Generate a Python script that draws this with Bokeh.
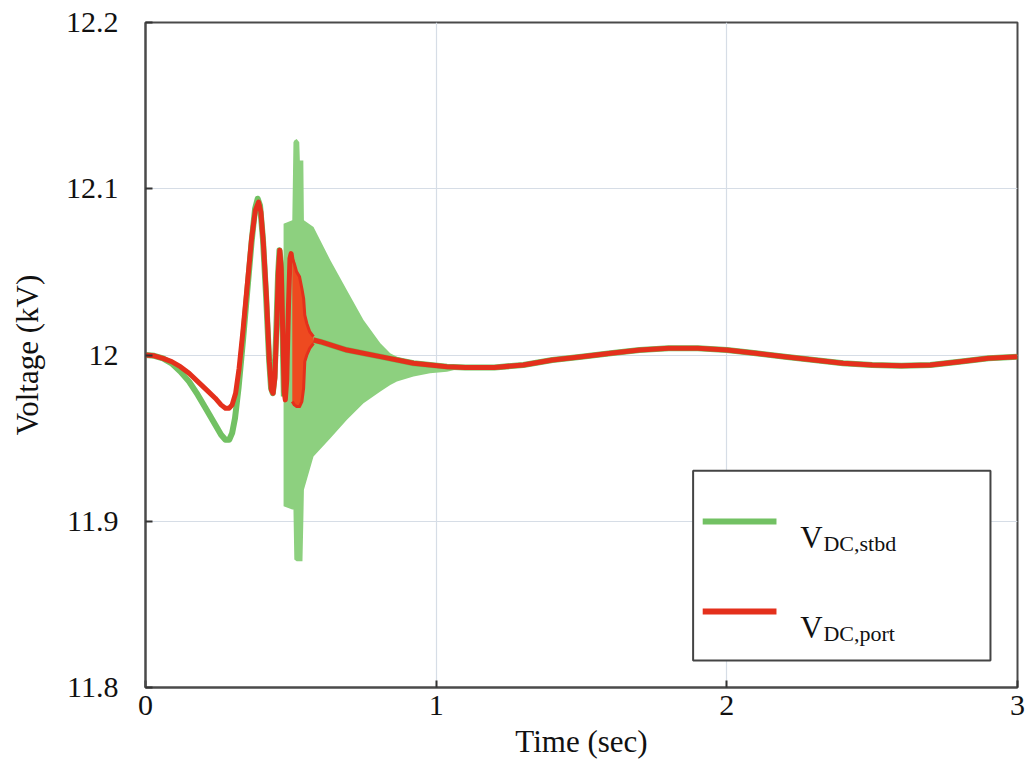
from bokeh.plotting import figure
from bokeh.models import FixedTicker, CustomJSTickFormatter, Range1d
from bokeh.core.properties import value
from bokeh.embed import file_html
from bokeh.resources import INLINE

# ---- axis setup -------------------------------------------------------
x_ticks = [0, 1, 2, 3]
y_ticks = [11.8, 11.9, 12.0, 12.1, 12.2]
x_lo, x_hi = 0.0, 3.0
y_lo, y_hi = 11.8, 12.2

# ---- V_DC,stbd (starboard bus) ----------------------------------------
stbd_t = [0.000, 0.030, 0.060, 0.090, 0.120, 0.150, 0.180, 0.210, 0.240,
          0.260, 0.275, 0.288, 0.298, 0.308, 0.320, 0.335, 0.350, 0.365,
          0.377, 0.386, 0.394, 0.404, 0.415, 0.425, 0.432, 0.438, 0.444,
          0.450, 0.456, 0.461, 0.466, 0.471, 0.476]
stbd_v = [12.000, 11.9995, 11.998, 11.995, 11.990, 11.984, 11.976, 11.967, 11.958,
          11.952, 11.949, 11.949, 11.953, 11.962, 11.980, 12.008, 12.038, 12.068,
          12.088, 12.094, 12.090, 12.070, 12.035, 11.998, 11.980, 11.977, 11.987,
          12.015, 12.048, 12.063, 12.055, 12.020, 11.975]

# fast ripple after the breaker event: upper / lower envelope
stbd_env_t = [0.475, 0.505, 0.509, 0.512, 0.520, 0.529, 0.531, 0.540, 0.543,
              0.545, 0.578, 0.636, 0.693, 0.750, 0.808, 0.842, 0.865, 0.922,
              0.979, 1.037, 1.100]
stbd_env_hi = [12.079, 12.081, 12.128, 12.129, 12.130, 12.128, 12.117, 12.117, 12.117,
               12.081, 12.077, 12.057, 12.039, 12.021, 12.007, 12.001, 11.999, 11.996,
               11.994, 11.993, 11.9925]
stbd_env_lo = [11.909, 11.907, 11.907, 11.877, 11.876, 11.876, 11.876, 11.876, 11.900,
               11.919, 11.939, 11.950, 11.961, 11.971, 11.978, 11.982, 11.984, 11.987,
               11.989, 11.990, 11.9925]

stbd_tail_t = [0.578, 0.601, 0.693, 0.808, 0.922, 1.037, 1.10, 1.20, 1.30, 1.40,
               1.50, 1.60, 1.70, 1.80, 1.90, 2.00, 2.10, 2.20, 2.30, 2.40,
               2.50, 2.60, 2.70, 2.80, 2.90, 3.00]
stbd_tail_v = [12.009, 12.008, 12.003, 11.999, 11.995, 11.993, 11.9925, 11.9925, 11.994, 11.997,
               11.999, 12.001, 12.003, 12.004, 12.004, 12.003, 12.001, 11.999, 11.997, 11.995,
               11.994, 11.9935, 11.994, 11.996, 11.998, 11.999]

# ---- V_DC,port (port bus) ---------------------------------------------
port_t = [0.000, 0.030, 0.060, 0.090, 0.120, 0.150, 0.180, 0.210, 0.240,
          0.260, 0.275, 0.288, 0.298, 0.310, 0.322, 0.335, 0.350, 0.365,
          0.378, 0.389, 0.397, 0.406, 0.416, 0.426, 0.433, 0.439, 0.445,
          0.451, 0.457, 0.462, 0.467, 0.472, 0.477, 0.481, 0.486, 0.492,
          0.497, 0.501, 0.505]
port_v = [12.000, 11.9995, 11.998, 11.996, 11.993, 11.989, 11.984, 11.979, 11.974,
          11.970, 11.968, 11.968, 11.970, 11.977, 11.992, 12.014, 12.042, 12.070,
          12.087, 12.092, 12.086, 12.066, 12.035, 11.996, 11.979, 11.977, 11.986,
          12.015, 12.050, 12.063, 12.052, 12.015, 11.978, 11.973, 11.985, 12.030,
          12.058, 12.061, 12.056]

port_env_t = [0.505, 0.512, 0.520, 0.530, 0.538, 0.544, 0.548, 0.555, 0.565, 0.578]
port_env_hi = [12.058, 12.055, 12.050, 12.047, 12.040, 12.034, 12.024, 12.019, 12.014, 12.011]
port_env_lo = [11.972, 11.970, 11.969, 11.969, 11.972, 11.980, 11.996, 12.000, 12.004, 12.007]

port_tail_t = [0.578, 0.601, 0.693, 0.808, 0.922, 1.037, 1.10, 1.20, 1.30, 1.40,
               1.50, 1.60, 1.70, 1.80, 1.90, 2.00, 2.10, 2.20, 2.30, 2.40,
               2.50, 2.60, 2.70, 2.80, 2.90, 3.00]
port_tail_v = [12.009, 12.008, 12.003, 11.999, 11.995, 11.993, 11.9925, 11.9925, 11.994, 11.997,
               11.999, 12.001, 12.003, 12.004, 12.004, 12.003, 12.001, 11.999, 11.997, 11.995,
               11.994, 11.9935, 11.994, 11.996, 11.998, 11.999]

legend_names = [("V", "DC,stbd"), ("V", "DC,port")]

GREEN_LINE = "#72c163"
GREEN_FILL = "#8dd07f"
RED_LINE = "#e4301c"
RED_FILL = "#ee4a20"
SERIF = "Liberation Serif"

p = figure(width=1031, height=776,
           x_range=Range1d(x_lo, x_hi), y_range=Range1d(y_lo, y_hi),
           output_backend="svg", toolbar_location=None,
           min_border_left=145, min_border_right=14,
           min_border_top=22, min_border_bottom=89)
p.title.visible = False
p.background_fill_color = "white"
p.border_fill_color = "white"
p.outline_line_color = "#4a4a4a"
p.outline_line_width = 2

# axes
p.xaxis.ticker = FixedTicker(ticks=x_ticks)
p.yaxis.ticker = FixedTicker(ticks=y_ticks)
p.yaxis.formatter = CustomJSTickFormatter(code="return String(Math.round(tick * 10) / 10);")
for ax in (p.xaxis, p.yaxis):
    ax.axis_line_color = "#4a4a4a"
    ax.axis_line_width = 2
    ax.major_tick_in = 7
    ax.major_tick_out = 0
    ax.major_tick_line_color = "#333333"
    ax.major_tick_line_width = 2
    ax.minor_tick_line_color = None
    ax.major_label_text_font = SERIF
    ax.major_label_text_font_size = "30px"
    ax.major_label_text_color = "#111111"
    ax.axis_label_text_font = SERIF
    ax.axis_label_text_font_size = "31px"
    ax.axis_label_text_font_style = "normal"
    ax.axis_label_text_color = "#111111"
p.xaxis.axis_label = "Time (sec)"
p.yaxis.axis_label = "Voltage (kV)"
p.xaxis.major_label_standoff = 8
p.xaxis.axis_label_standoff = 6
p.yaxis.major_label_standoff = 27
p.yaxis.axis_label_standoff = 18

p.xgrid.ticker = FixedTicker(ticks=x_ticks)
p.ygrid.ticker = FixedTicker(ticks=y_ticks)
for g in (p.xgrid, p.ygrid):
    g.grid_line_color = "#d6dde6"
    g.grid_line_width = 1.2

# starboard bus: ripple band, then trace
p.varea(x=stbd_env_t, y1=stbd_env_lo, y2=stbd_env_hi, fill_color=GREEN_FILL)
p.line(stbd_t, stbd_v, line_color=GREEN_LINE, line_width=6, line_join="round")
p.line(stbd_tail_t, stbd_tail_v, line_color=GREEN_LINE, line_width=6, line_join="round")

# port bus
p.varea(x=port_env_t, y1=port_env_lo, y2=port_env_hi, fill_color=RED_FILL)
p.line(port_env_t, port_env_hi, line_color=RED_LINE, line_width=3, line_join="round")
p.line(port_env_t, port_env_lo, line_color=RED_LINE, line_width=3, line_join="round")
p.line(port_t, port_v, line_color=RED_LINE, line_width=5, line_join="round")
p.line(port_tail_t, port_tail_v, line_color=RED_LINE, line_width=5, line_join="round")

# ---- legend box, placed as fractions of the plot frame ------------------
def fx(f):
    return x_lo + f * (x_hi - x_lo)

def fy(f):
    return y_lo + f * (y_hi - y_lo)

p.quad(left=[fx(0.628)], right=[fx(0.969)], bottom=[fy(0.0406)], top=[fy(0.326)],
       fill_color="white", line_color="#444444", line_width=2)

entry_rows = [0.2496, 0.1143]
entry_colors = [GREEN_LINE, RED_LINE]
for (main, sub), row, col in zip(legend_names, entry_rows, entry_colors):
    p.line([fx(0.639), fx(0.7236)], [fy(row), fy(row)], line_color=col, line_width=6)
    p.text(x=[fx(0.751)], y=[fy(row - 0.024)], text=[main],
           text_font=value(SERIF), text_font_size="31px", text_color="#111111",
           text_baseline="alphabetic", text_align="left")
    p.text(x=[fx(0.7775)], y=[fy(row - 0.0335)], text=[sub],
           text_font=value(SERIF), text_font_size="22px", text_color="#111111",
           text_baseline="alphabetic", text_align="left")

open("out.html", "w").write(file_html(p, INLINE))
